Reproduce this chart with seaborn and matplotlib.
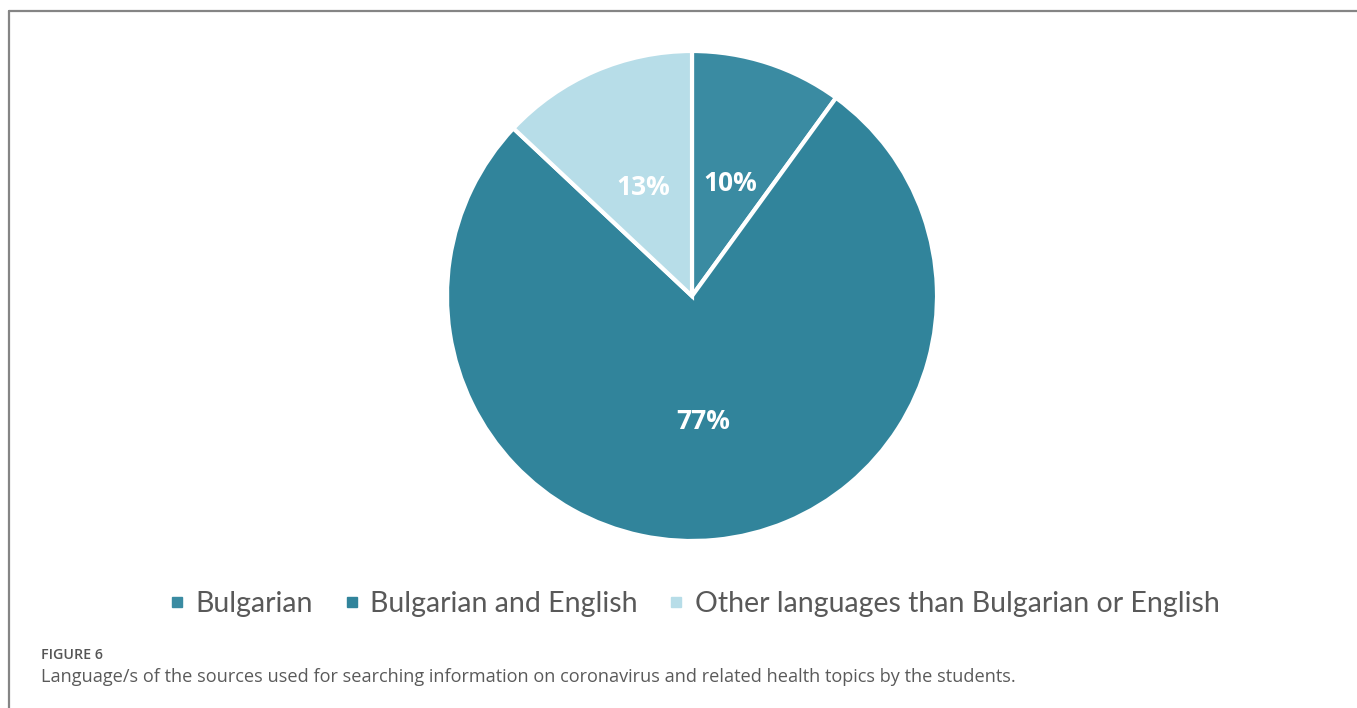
import matplotlib
matplotlib.use("Agg")
import matplotlib.pyplot as plt
from matplotlib.lines import Line2D
import seaborn as sns

# Share of students by language of the sources they used
categories = ["Bulgarian", "Bulgarian and English", "Other languages than Bulgarian or English"]
shares = [10, 77, 13]
colors = ["#3A8BA2", "#31849B", "#B7DDE8"]

caption_label = "FIGURE 6"
caption_text = ("Language/s of the sources used for searching information on coronavirus "
                "and related health topics by the students.")

sns.set_theme(style="white")
plt.rcParams["font.family"] = ["Open Sans", "DejaVu Sans"]

W, H = 1357, 708
fig = plt.figure(figsize=(W / 100, H / 100), dpi=100)
fig.patch.set_facecolor("white")

# Pie axes placed in pixel terms: centre (692, 296), radius 245
cx, cy, r = 692, 296, 245
ax = fig.add_axes([(cx - r) / W, (H - cy - r) / H, 2 * r / W, 2 * r / H])
wedges, texts, autotexts = ax.pie(
    shares,
    colors=colors,
    startangle=90,
    counterclock=False,
    radius=1.0,
    autopct=lambda p: f"{p:.0f}%",
    pctdistance=0.5,
    wedgeprops=dict(edgecolor="white", linewidth=3),
    textprops=dict(color="white", fontsize=19, fontweight="bold"),
)
for t in autotexts:
    x, y = t.get_position()
    t.set_position((x, y - 0.015))
ax.set_xlim(-1, 1)
ax.set_ylim(-1, 1)
ax.set_aspect("equal")
ax.axis("off")

# Legend row below the pie
handles = [Line2D([], [], linestyle="none", marker="s", markersize=7.5,
                  markerfacecolor=c, markeredgecolor=c) for c in colors]
fig.legend(handles, categories, loc="center", bbox_to_anchor=(695 / W, 1 - 604 / H),
           ncol=3, frameon=False, handlelength=0.5, handletextpad=0.4,
           columnspacing=1.1, labelcolor="#595959",
           prop=dict(family=["Lato", "DejaVu Sans"], size=20.5))

# Panel frame: left and top rules
fig.add_artist(Line2D([8.5 / W, 8.5 / W], [0, 1 - 10.5 / H], color="#858585", linewidth=1.6))
fig.add_artist(Line2D([8.5 / W, 1], [1 - 10.5 / H, 1 - 10.5 / H], color="#858585", linewidth=1.6))

# Caption
fig.text(41 / W, 1 - 655 / H, caption_label, fontsize=10.3, fontweight="semibold",
         color="#555555", va="center", ha="left")
fig.text(41 / W, 1 - 677 / H, caption_text, fontsize=13.1, color="#5a5a5a",
         va="center", ha="left")

fig.savefig("out.png", dpi=100, facecolor="white")
